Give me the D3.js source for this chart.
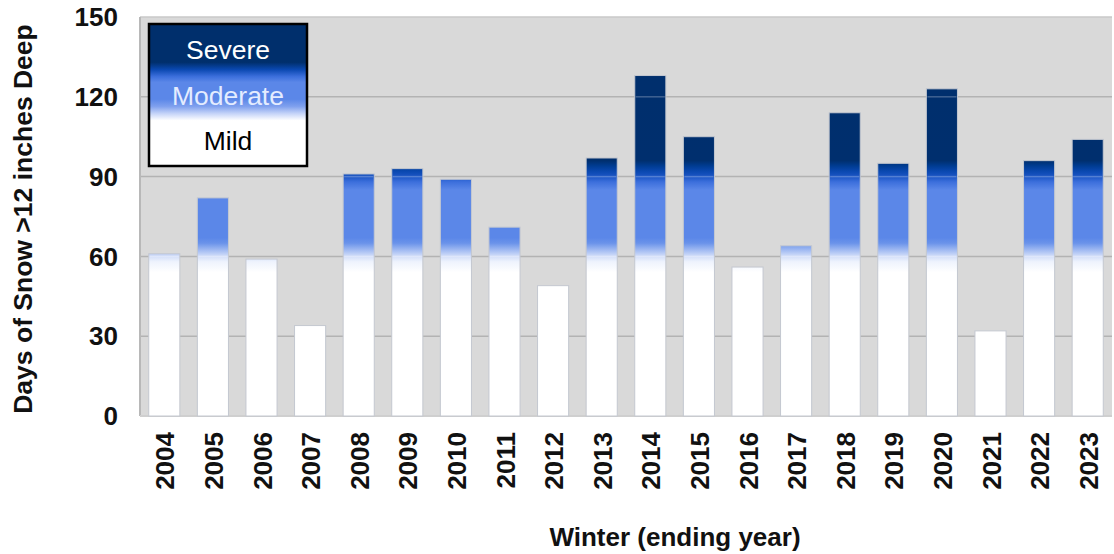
<!DOCTYPE html>
<html><head><meta charset="utf-8">
<script src="https://cdn.jsdelivr.net/npm/d3@7"></script>
<style>
body{margin:0;background:#fff;}
text{font-family:"Liberation Sans",Arial,sans-serif;}
</style></head>
<body><svg id="c" width="1114" height="554"></svg>
<script>
const years = ["2004","2005","2006","2007","2008","2009","2010","2011","2012","2013","2014","2015","2016","2017","2018","2019","2020","2021","2022","2023"];
const days = [61,82,59,34,91,93,89,71,49,97,128,105,56,64,114,95,123,32,96,104];
const yTicks = [0,30,60,90,120,150];
const legendLabels = ["Severe","Moderate","Mild"];
// gradient stops by value (days)
const gradStops = [[0,"#ffffff"],[54,"#ffffff"],[58,"#eef3fd"],[60,"#d3def9"],[62,"#a9c0f3"],[65,"#6a93ea"],[67,"#5b87e8"],[85,"#5b87e8"],[88,"#3c6fdc"],[90,"#1b55c4"],[92,"#0a48b0"],[94,"#003c92"],[96,"#002f6e"],[150,"#002f6c"]];

const svg = d3.select("#c");
const L=140, R=1112, T=17, B=416;
const x = d3.scaleBand().domain(years).range([L,R]).paddingInner(0.36).paddingOuter(0.18);
const y = d3.scaleLinear().domain([0,150]).range([B,T]);

const defs = svg.append("defs");
const g1 = defs.append("linearGradient").attr("id","barGrad").attr("gradientUnits","userSpaceOnUse")
  .attr("x1",0).attr("x2",0).attr("y1",y(0)).attr("y2",y(150));
g1.selectAll("stop").data(gradStops).join("stop").attr("offset",d=>d[0]/150).attr("stop-color",d=>d[1]);

// plot background
svg.append("rect").attr("x",L).attr("y",T).attr("width",R-L).attr("height",B-T).attr("fill","#d9d9d9");
// gridlines
svg.append("g").selectAll("line").data(yTicks.filter(d=>d>0&&d<150)).join("line")
  .attr("x1",L).attr("x2",R).attr("y1",d=>y(d)).attr("y2",d=>y(d)).attr("stroke","#b3b3b3").attr("stroke-width",1.5);
// borders
svg.append("line").attr("x1",L).attr("x2",R).attr("y1",T).attr("y2",T).attr("stroke","#c8c8c8").attr("stroke-width",1.5);
svg.append("line").attr("x1",L).attr("x2",L).attr("y1",T).attr("y2",B).attr("stroke","#b8b8b8").attr("stroke-width",2);
svg.append("line").attr("x1",L).attr("x2",R).attr("y1",B).attr("y2",B).attr("stroke","#cfcfcf").attr("stroke-width",2);

// bars
svg.append("g").selectAll("rect").data(years).join("rect")
  .attr("x",d=>x(d)).attr("width",x.bandwidth())
  .attr("y",(d,i)=>y(days[i])).attr("height",(d,i)=>y(0)-y(days[i]))
  .attr("fill","url(#barGrad)").attr("stroke","#c4c8d0").attr("stroke-width",1);
// faint gridline overlay through bars
years.forEach((yr,i)=>{
  yTicks.filter(t=>t>0&&t<days[i]).forEach(t=>{
    svg.append("line").attr("x1",x(yr)+1).attr("x2",x(yr)+x.bandwidth()-1).attr("y1",y(t)).attr("y2",y(t))
      .attr("stroke","#ffffff").attr("stroke-opacity",0.25).attr("stroke-width",1.5);
  });
});

// y axis labels
svg.append("g").selectAll("text").data(yTicks).join("text")
  .attr("x",118).attr("y",d=>y(d)).attr("dy","0.35em").attr("text-anchor","end")
  .attr("font-size",26).attr("font-weight","bold").attr("fill","#111").text(d=>d);
// x axis labels
svg.append("g").selectAll("text").data(years).join("text")
  .attr("transform",d=>`translate(${x(d)+x.bandwidth()/2+1},432) rotate(-90)`)
  .attr("dy","0.35em").attr("text-anchor","end")
  .attr("font-size",26).attr("font-weight","bold").attr("fill","#111").text(d=>d);
// titles
svg.append("text").attr("transform","translate(23,219) rotate(-90)").attr("dy","0.35em").attr("text-anchor","middle")
  .attr("font-size",26.5).attr("font-weight","bold").attr("fill","#111").text("Days of Snow >12 inches Deep");
svg.append("text").attr("x",675).attr("y",537).attr("dy","0.35em").attr("text-anchor","middle")
  .attr("font-size",26).attr("font-weight","bold").attr("fill","#111").text("Winter (ending year)");

// legend
const lx=149, ly=24, lw=158, lh=142;
const g2 = defs.append("linearGradient").attr("id","legGrad").attr("x1",0).attr("x2",0).attr("y1",0).attr("y2",1);
[[0,"#002f6c"],[0.27,"#002f6c"],[0.32,"#0a48b0"],[0.37,"#3c6fdc"],[0.41,"#5b87e8"],[0.53,"#5b87e8"],[0.58,"#7fa0ee"],[0.63,"#c4d3f8"],[0.68,"#ffffff"],[1,"#ffffff"]]
  .forEach(s=>g2.append("stop").attr("offset",s[0]).attr("stop-color",s[1]));
svg.append("rect").attr("x",lx).attr("y",ly).attr("width",lw).attr("height",lh).attr("fill","url(#legGrad)")
  .attr("stroke","#000").attr("stroke-width",2.5);
const legY=[50,96,141], legC=["#ffffff","#e4ecff","#000000"];
svg.append("g").selectAll("text").data(legendLabels).join("text")
  .attr("x",lx+lw/2).attr("y",(d,i)=>legY[i]).attr("dy","0.35em").attr("text-anchor","middle")
  .attr("font-size",26.5).attr("fill",(d,i)=>legC[i]).text(d=>d);
</script></body></html>
